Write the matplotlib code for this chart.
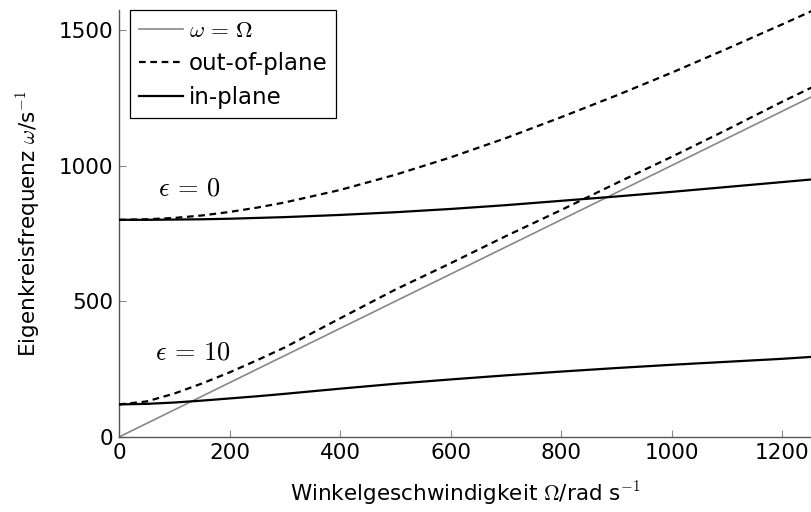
import matplotlib
matplotlib.use("Agg")
import matplotlib.pyplot as plt

plt.rcParams['font.family'] = ['DejaVu Sans']
plt.rcParams['mathtext.fontset'] = 'cm'

omega_x = [0, 50, 100, 150, 200, 250, 300, 400, 500, 600, 700, 800, 900, 1000, 1100, 1200, 1260]
out_eps0 = [800, 802, 807, 816, 829, 845, 864, 910, 966, 1030, 1101, 1178, 1258, 1342, 1430, 1520, 1575]
in_eps0 = [800, 800, 801, 802, 804, 807, 810, 818, 828, 840, 854, 870, 886, 903, 921, 939, 950]
out_eps10 = [120, 131, 160, 197, 238, 283, 330, 437, 543, 640, 740, 836, 935, 1032, 1132, 1235, 1294]
in_eps10 = [120, 122, 127, 134, 142, 150, 159, 178, 196, 212, 227, 241, 254, 266, 277, 288, 296]
diag_x = [0, 1260]
diag_y = [0, 1260]

x_ticks = [0, 200, 400, 600, 800, 1000, 1200]
y_ticks = [0, 500, 1000, 1500]

fig = plt.figure(figsize=(8.12, 5.12), dpi=100)
ax = fig.add_axes([0.1466, 0.1465, 0.8534, 0.834])

ax.plot(diag_x, diag_y, color='#888888', lw=1.2, label=r'$\omega\,=\,\Omega$', zorder=2)
ax.plot(omega_x, out_eps0, color='black', lw=1.6, dashes=(3, 2.1), label='out-of-plane', zorder=3)
ax.plot(omega_x, in_eps0, color='black', lw=1.6, label='in-plane', zorder=3)
ax.plot(omega_x, out_eps10, color='black', lw=1.6, dashes=(3, 2.1), zorder=3)
ax.plot(omega_x, in_eps10, color='black', lw=1.6, zorder=3)

ax.text(127, 917, r'$\epsilon\,=\,0$', fontsize=19, ha='center', va='center')
ax.text(133, 313, r'$\epsilon\,=\,10$', fontsize=19, ha='center', va='center')

ax.set_xlim(0, 1254)
ax.set_ylim(0, 1573)
ax.set_xticks(x_ticks)
ax.set_yticks(y_ticks)
ax.tick_params(direction='in', length=5, width=0.8, color='#888888',
               labelsize=15.5, pad=4)
for s in ['top', 'right']:
    ax.spines[s].set_visible(False)
for s in ['left', 'bottom']:
    ax.spines[s].set_color('#555555')
    ax.spines[s].set_linewidth(1.0)

ax.set_xlabel(r'Winkelgeschwindigkeit $\Omega$/rad s$^{-1}$', fontsize=15.5, labelpad=12)
ax.set_ylabel(r'Eigenkreisfrequenz $\omega$/s$^{-1}$', fontsize=15.5, labelpad=12)

leg = ax.legend(loc='upper left', bbox_to_anchor=(0.016, 1.0), fontsize=16.5,
                frameon=True, fancybox=False, edgecolor='black', framealpha=1,
                handlelength=1.9, handletextpad=0.25, borderpad=0.4,
                labelspacing=0.45, borderaxespad=0)
leg.get_frame().set_linewidth(0.9)

fig.savefig('out.png', dpi=100)
